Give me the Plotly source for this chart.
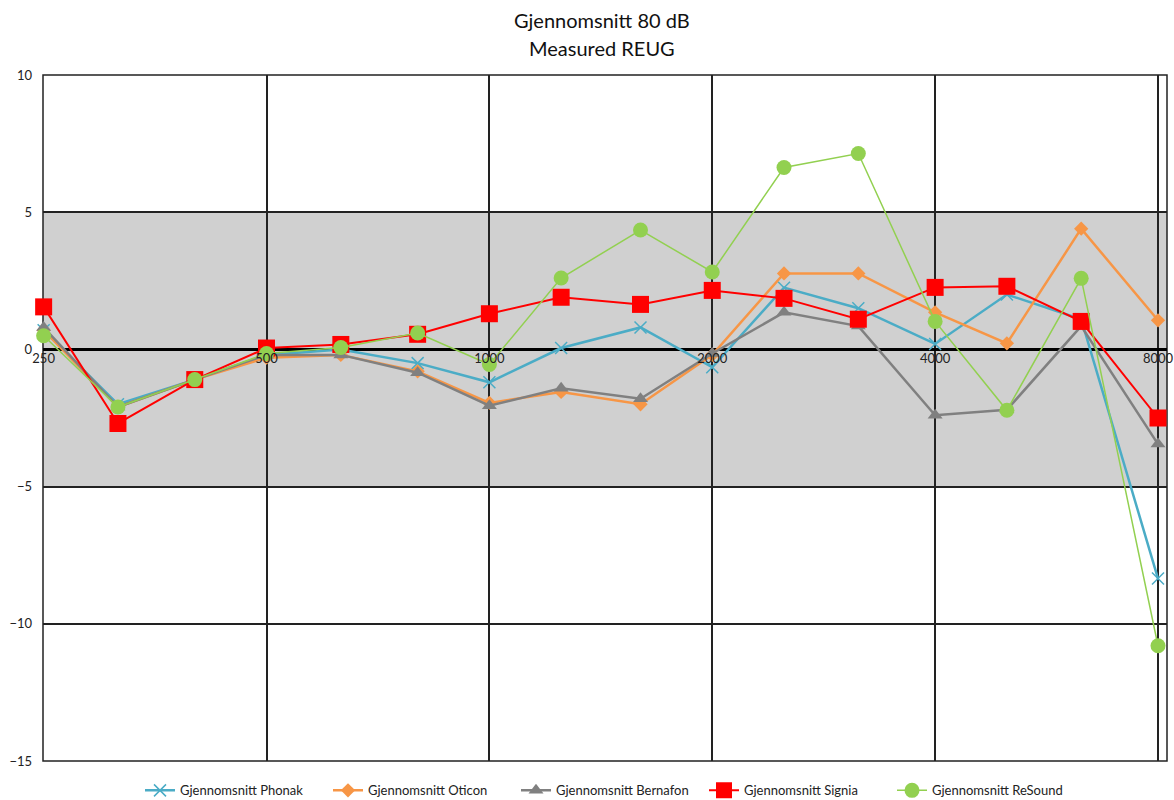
import plotly.graph_objects as go
import math

freqs = [250, 315, 400, 500, 630, 800, 1000, 1250, 1600, 2000, 2500, 3150, 4000, 5000, 6300, 8000]

phonak   = [0.7, -2.0, -1.1, -0.2, 0.0, -0.5, -1.2, 0.05, 0.8, -0.65, 2.25, 1.5, 0.2, 2.0, 1.1, -8.35]
oticon   = [0.7, -2.1, -1.1, -0.3, -0.2, -0.8, -1.95, -1.55, -2.0, -0.2, 2.77, 2.77, 1.35, 0.22, 4.4, 1.06]
bernafon = [0.8, -2.1, -1.1, -0.2, -0.2, -0.85, -2.05, -1.42, -1.8, -0.15, 1.35, 0.85, -2.4, -2.2, 0.85, -3.45]
signia   = [1.55, -2.7, -1.1, 0.05, 0.18, 0.55, 1.3, 1.9, 1.64, 2.15, 1.86, 1.1, 2.26, 2.3, 1.02, -2.5]
resound  = [0.5, -2.1, -1.1, -0.15, 0.07, 0.6, -0.55, 2.6, 4.35, 2.82, 6.63, 7.14, 1.02, -2.22, 2.59, -10.8]

series = [
    ("Gjennomsnitt Phonak", phonak, "#4BACC6", 2.5, "x-thin", 12, 1.5),
    ("Gjennomsnitt Oticon", oticon, "#F79646", 2.5, "diamond", 11, 0),
    ("Gjennomsnitt Bernafon", bernafon, "#808080", 2.5, "triangle-up", 13, 0),
    ("Gjennomsnitt Signia", signia, "#FF0000", 2, "square", 17, 0),
    ("Gjennomsnitt ReSound", resound, "#92D050", 1.5, "circle", 15, 0),
]

title_lines = ["Gjennomsnitt 80 dB", "Measured REUG"]
xticks = [250, 500, 1000, 2000, 4000, 8000]
yticks = [-15, -10, -5, 0, 5, 10]

fig = go.Figure()
for name, vals, col, lw, sym, ms, mlw in series:
    fig.add_trace(go.Scatter(
        x=freqs, y=vals, name=name, mode="lines+markers",
        line=dict(color=col, width=lw),
        marker=dict(symbol=sym, size=ms, color=col,
                    line=dict(color=col, width=mlw)),
        cliponaxis=False,
    ))

fig.add_shape(type="rect", xref="paper", yref="y", x0=0, x1=1, y0=-5, y1=5,
              fillcolor="#D0D0D0", line=dict(width=0), layer="below")
fig.add_shape(type="rect", xref="paper", yref="paper", x0=0, x1=1, y0=0, y1=1,
              line=dict(color="#222", width=1.5), layer="below")

plot_h = 800 - 75 - 39
for txt, ypx in zip(title_lines, [20, 48]):
    fig.add_annotation(text=txt, xref="paper", yref="paper",
                       x=0.497, y=1 + (75 - ypx) / plot_h,
                       xanchor="center", yanchor="middle", showarrow=False,
                       font=dict(size=20, color="#111"))

fig.update_layout(
    width=1174, height=800,
    margin=dict(l=43, r=7, t=75, b=39, autoexpand=False),
    paper_bgcolor="white", plot_bgcolor="white",
    font=dict(family="Lato, 'Open Sans', sans-serif", color="#222", size=13),
    xaxis=dict(type="log", range=[math.log10(249.5), math.log10(8227)],
               tickvals=xticks, ticktext=[str(t) for t in xticks],
               showgrid=True, gridcolor="#222", gridwidth=1.5,
               showline=False, zeroline=False, ticks="", automargin=False,
               anchor="free", position=0.6, tickfont=dict(size=13, color="#222")),
    yaxis=dict(range=[-15, 10], tickvals=yticks,
               showgrid=True, gridcolor="#222", gridwidth=1.5,
               zeroline=True, zerolinecolor="black", zerolinewidth=3,
               showline=False, ticks="", automargin=False, ticklabelstandoff=10,
               tickfont=dict(size=13, color="#222")),
    legend=dict(orientation="h", x=(140 - 43) / 1124, xanchor="left", y=-0.021, yanchor="top",
                font=dict(size=13, color="#222"), itemwidth=30,
                entrywidth=143, entrywidthmode="pixels"),
    showlegend=True,
)

fig.write_html("out.html", config={"displayModeBar": False},
               post_script="document.body.style.margin='0';")
